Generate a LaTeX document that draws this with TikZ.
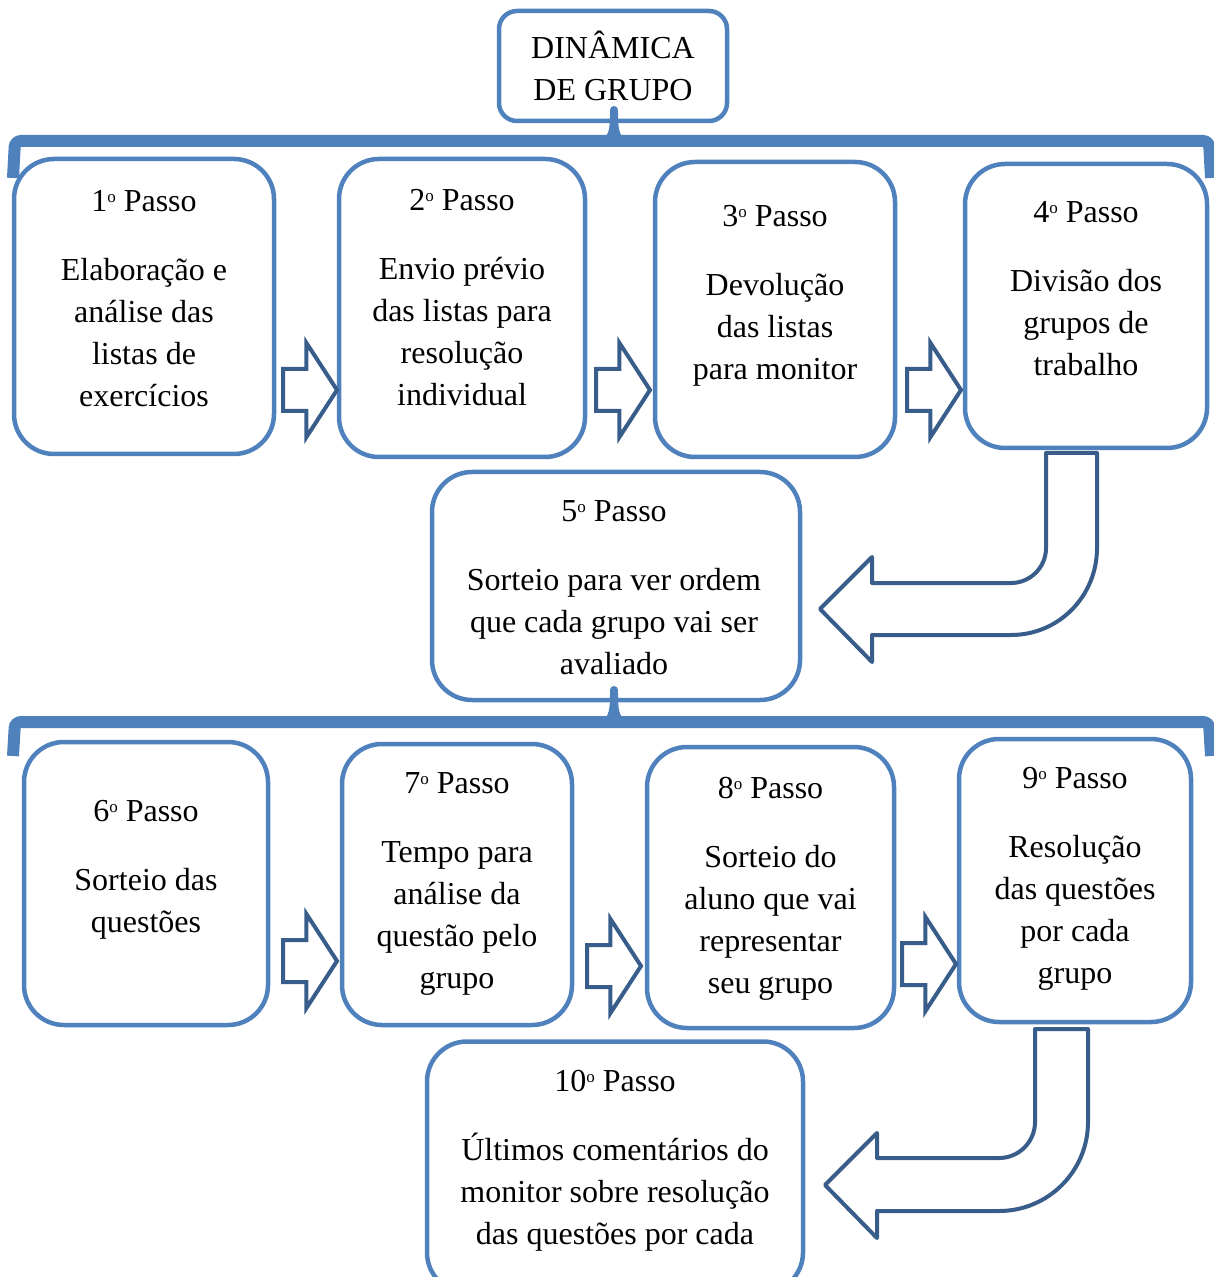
\documentclass[tikz,border=0pt]{standalone}
\usepackage{fontspec}
\setmainfont{Liberation Serif}
\usetikzlibrary{positioning, shapes.arrows}
\definecolor{boxblue}{RGB}{79,129,189}
\definecolor{arrowblue}{RGB}{56,93,138}
\newcommand{\ordo}{\raisebox{4.5pt}{\fontsize{8.5pt}{8.5pt}\selectfont o}}
\newcommand{\passo}[2]{#1\ordo{} Passo\\[13.5pt]#2}

\begin{document}
\begin{tikzpicture} [%
    x = 0.5pt,
    y = -0.5pt,
    every node/.style = {font = \fontsize{16pt}{21pt}\selectfont},
    stepbox/.style = {%
      draw = boxblue,
      line width = 2.25pt,
      rounded corners = 20pt,
      inner sep = 0pt },
    steptext/.style = {align = center, inner sep = 0pt},
    blockarrow/.style = {%
      single arrow,
      draw = arrowblue,
      fill = white,
      line width = 2pt,
      inner xsep = 0pt,
      inner ysep = 9.5pt,
      minimum height = 27pt,
      minimum width = 45pt,
      single arrow head extend = 13pt,
      single arrow tip angle = 114,
      anchor = tail },
    bentarrow/.style = {draw = arrowblue, fill = white, line width = 2pt, line join = round},
    brace/.style = {draw = boxblue, line width = 6pt, rounded corners = 3pt}
  ]

  \useasboundingbox (0,0) rectangle (1213,1277);

  \node[stepbox, rounded corners = 9pt, align = center,
        minimum width = 114pt, minimum height = 55pt] (T) at (613,66) {DIN\^AMICA\\DE GRUPO};

  % first row
  \node[stepbox, minimum width = 130pt, minimum height = 147.5pt] (S1) at (144,306.5) {};
  \node[stepbox, minimum width = 123pt, minimum height = 149pt] (S2) at (462,308) {};
  \node[stepbox, minimum width = 120pt, minimum height = 147.5pt] (S3) at (775,309.5) {};
  \node[stepbox, minimum width = 121pt, minimum height = 142pt] (S4) at (1086,306) {};
  \node[stepbox, minimum width = 184pt, minimum height = 114pt] (S5) at (616,586) {};

  \node[steptext, below = 16.5pt of S1.north] (P1) {\passo{1}{Elaboração e\\análise das\\listas de\\exercícios}};
  \node[steptext, below = 16pt of S2.north] (P2) {\passo{2}{Envio prévio\\das listas para\\resolução\\individual}};
  \node[steptext, below = 22.5pt of S3.north] (P3) {\passo{3}{Devolução\\das listas\\para monitor}};
  \node[steptext, below = 19.5pt of S4.north] (P4) {\passo{4}{Divisão dos\\grupos de\\trabalho}};
  \node[steptext, below = 15pt of S5.north, xshift = -1pt] (P5) {\passo{5}{Sorteio para ver ordem\\que cada grupo vai ser\\avaliado}};

  % second row
  \node[stepbox, minimum width = 122pt, minimum height = 141.5pt] (S6) at (146,883.5) {};
  \node[stepbox, minimum width = 115pt, minimum height = 140.5pt] (S7) at (457,884.5) {};
  \node[stepbox, minimum width = 123.5pt, minimum height = 140.5pt] (S8) at (770.5,887.5) {};
  \node[stepbox, minimum width = 116pt, minimum height = 141.5pt] (S9) at (1075,880.5) {};
  \node[stepbox, minimum width = 188pt, minimum height = 125.5pt] (S10) at (615,1167) {};

  \node[steptext, below = 30pt of S6.north] (P6) {\passo{6}{Sorteio das\\questões}};
  \node[steptext, below = 15pt of S7.north] (P7) {\passo{7}{Tempo para\\análise da\\questão pelo\\grupo}};
  \node[steptext, below = 16pt of S8.north] (P8) {\passo{8}{Sorteio do\\aluno que vai\\representar\\seu grupo}};
  \node[steptext, below = 15pt of S9.north] (P9) {\passo{9}{Resolução\\das questões\\por cada\\grupo}};
  \node[steptext, below = 15.5pt of S10.north] (P10) {\passo{10}{Últimos comentários do\\monitor sobre resolução\\das questões por cada}};

  % braces
  \draw[brace] (13,178) -- (15,141) -- (1209,141) -- (1211,178);
  \fill[boxblue] (602,138) .. controls (609,137) and (610,128) .. (610,112)
    -- (618,112) .. controls (618,128) and (619,137) .. (626,138) -- cycle;
  \draw[boxblue, line width = 4pt, line cap = round] (614,139) -- (614,110);

  \draw[brace] (13,756) -- (15,722) -- (1209,722) -- (1211,756);
  \fill[boxblue] (602,719) .. controls (609,718) and (610,709) .. (610,693)
    -- (618,693) .. controls (618,709) and (619,718) .. (626,719) -- cycle;
  \draw[boxblue, line width = 4pt, line cap = round] (614,720) -- (614,690);

  % arrows
  \node[blockarrow] (A12) at (281,390) {};
  \node[blockarrow] (A23) at (594,390) {};
  \node[blockarrow] (A34) at (905,390) {};
  \node[blockarrow] (A67) at (281,961) {};
  \node[blockarrow] (A78) at (585,966) {};
  \node[blockarrow] (A89) at (900,964) {};

  \draw[bentarrow] (1046,453) -- (1046,548)
    .. controls (1046,567.3) and (1030.3,583) .. (1011,583)
    -- (872,583) -- (872,557) -- (820,609) -- (872,662) -- (872,635) -- (1011,635)
    .. controls (1059,635) and (1097,596) .. (1097,548) -- (1097,453) -- cycle;

  \draw[bentarrow] (1035,1029) -- (1035,1122)
    .. controls (1035,1141.9) and (1018.9,1158) .. (999,1158)
    -- (877,1158) -- (877,1133) -- (825,1185) -- (877,1238) -- (877,1211) -- (999,1211)
    .. controls (1048.2,1211) and (1088,1171.2) .. (1088,1122) -- (1088,1029) -- cycle;

\end{tikzpicture}
\end{document}
